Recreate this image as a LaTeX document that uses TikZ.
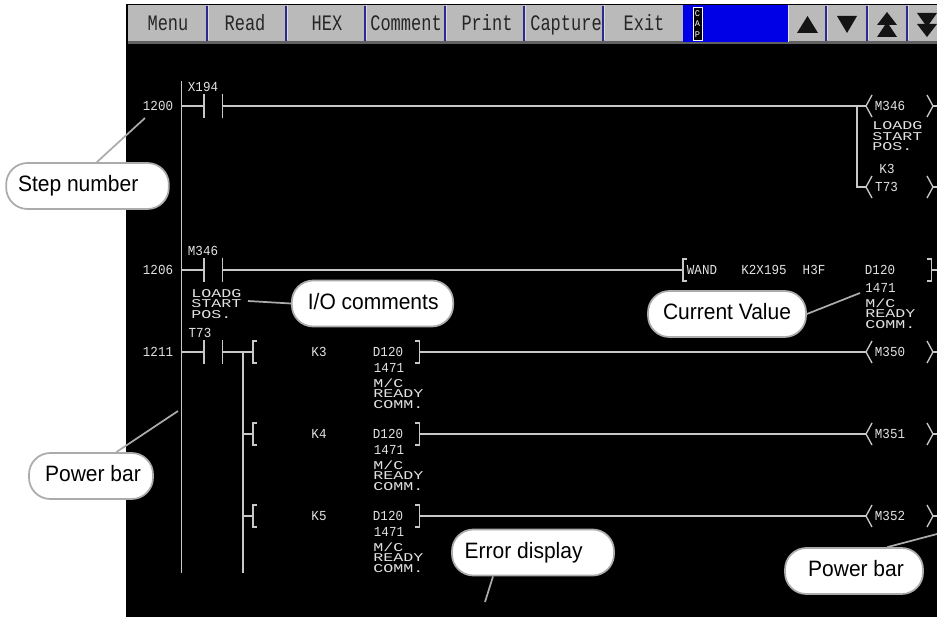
\documentclass[tikz,border=0pt]{standalone}
\usepackage{fontspec}
\usepackage{graphicx}
\setmainfont{Liberation Sans}
\newfontfamily\monof{Liberation Mono}
\usetikzlibrary{calc}
\definecolor{ladline}{HTML}{C8C8C8}
\definecolor{ladtxt}{HTML}{E2E2E2}
\definecolor{btnfill}{HTML}{BABABA}
\definecolor{btnedge}{HTML}{2A2A90}
\definecolor{scrblue}{HTML}{0000E6}
\definecolor{callgray}{HTML}{ABABAB}
\newcommand{\ltx}[1]{\scalebox{1}[1.1]{#1}}
\newcommand{\ctx}[1]{\scalebox{1.33}[0.95]{#1}}
\newcommand{\cmt}[3]{\ctx{#1}\\\ctx{#2}\\\ctx{#3}}
\newcommand{\btx}[1]{\scalebox{1}[1.3]{#1}}
\newcommand{\clt}[2]{\raisebox{#1}[11.3pt][0pt]{\scalebox{1}[1.06]{#2}}}
\tikzset{
  x=0.75pt,y=-0.75pt,
  wire/.style={draw=ladline,line width=1pt},
  lad/.style={text=ladtxt,inner sep=0pt,font=\monof\fontsize{9.4pt}{11pt}\selectfont},
  comm/.style={text=ladtxt,inner sep=0pt,anchor=west,align=left,font=\monof\fontsize{9.4pt}{7.9pt}\selectfont},
  btnt/.style={text=black!85,inner sep=0pt,anchor=base,font=\monof\fontsize{12.75pt}{14pt}\selectfont},
  call/.style={draw=callgray,fill=white,line width=1.3pt,rounded corners=16pt,inner sep=0pt,minimum height=34.5pt,font=\fontsize{15.75pt}{18pt}\selectfont,text=black},
  leader/.style={draw=callgray,line width=1.3pt},
  tri/.style={fill=black!92,draw=none},
}
\begin{document}
\begin{tikzpicture}
\useasboundingbox (0,0) rectangle (937,617);
\fill[white] (0,0) rectangle (937,617);
\fill[black] (126,4) rectangle (937,617);
% toolbar
\fill[btnfill] (128,5) rectangle (937,42);
\fill[black!62] (128,41) rectangle (937,44);
\foreach \xt/\nm/\tx in {168/bMenu/Menu,245/bRead/Read,327/bHex/HEX,406/bComment/Comment,487/bPrint/Print,566/bCapture/Capture,644/bExit/Exit}{
  \node[btnt] (\nm) at (\xt,31) {\btx{\tx}};
}
\foreach \xd in {207,286,365,445,524,603,826,867,907}{
  \draw[btnedge,line width=0.9pt] (\xd,6) -- (\xd,41);
  \draw[white!85!black,line width=0.9pt] (\xd+1.5,5) -- (\xd+1.5,40);
}
\fill[scrblue] (683,5) rectangle (788,42);
\draw[black!10!white,line width=0.6pt] (788,5) -- (788,42);
\node[draw=white,fill=black,line width=0.5pt,minimum width=7pt,minimum height=25pt,inner sep=0pt,text=white,align=center,font=\monof\fontsize{6.5pt}{8pt}\selectfont] (cap) at (697.5,24) {C\\A\\P};
\fill[tri] (807.5,16) -- (818,33) -- (797,33) -- cycle;
\fill[tri] (847,33) -- (857,16) -- (837,16) -- cycle;
\fill[tri] (887,12) -- (897,25) -- (877,25) -- cycle;
\fill[tri] (887,22) -- (897,37) -- (877,37) -- cycle;
\fill[tri] (927,37) -- (937,24) -- (917,24) -- cycle;
\fill[tri] (927,27) -- (937,13) -- (917,13) -- cycle;
% power bars
\draw[wire] (181.5,81) -- (181.5,573);
\draw[wire] (243,352) -- (243,573);
% rung 1200
\draw[wire] (181.5,106) -- (204,106) (204,94) -- (204,118) (222.5,94) -- (222.5,118) (222.5,106) -- (866,106);
\draw[wire] (857,106) -- (857,187) -- (866,187);
% rung 1206
\draw[wire] (181.5,270) -- (204,270) (204,258) -- (204,282) (222.5,258) -- (222.5,282) (222.5,270) -- (683,270);
\draw[wire] (687,259) -- (683,259) -- (683,281) -- (687,281);
\draw[wire] (927,259) -- (931.5,259) -- (931.5,281) -- (927,281) (931.5,270) -- (937,270);
% rung 1211
\draw[wire] (181.5,352) -- (204,352) (204,340) -- (204,364) (222.5,340) -- (222.5,364) (222.5,352) -- (253,352);
\foreach \yy in {352,434,516}{
  \draw[wire] (243,\yy) -- (253,\yy);
  \draw[wire] (257,\yy-11) -- (253,\yy-11) -- (253,\yy+11) -- (257,\yy+11);
  \draw[wire] (415,\yy-11) -- (419.5,\yy-11) -- (419.5,\yy+11) -- (415,\yy+11);
  \draw[wire] (419.5,\yy) -- (866,\yy);
}
\foreach \yy in {106,187,352,434,516}{
  \draw[wire] (872,\yy-11) -- (866,\yy) -- (872,\yy+11);
  \draw[wire] (927,\yy-11) -- (933,\yy) -- (927,\yy+11);
  \draw[wire] (933,\yy) -- (937,\yy);
}
% ladder texts
\node[lad] (s1200) at (158,106) {\ltx{1200}};
\node[lad] (s1206) at (158,270) {\ltx{1206}};
\node[lad] (s1211) at (158,352) {\ltx{1211}};
\node[lad] (cX194) at (203,87) {\ltx{X194}};
\node[lad] (cM346) at (203,251) {\ltx{M346}};
\node[lad] (cT73) at (200,333) {\ltx{T73}};
\node[comm] (cmA) at (191,304) {\cmt{LOADG}{START}{POS.}};
\node[lad] (oM346) at (890,106) {\ltx{M346}};
\node[comm] (cmB) at (872,136.5) {\cmt{LOADG}{START}{POS.}};
\node[lad] (k3t) at (887,169) {\ltx{K3}};
\node[lad] (oT73) at (886.5,187) {\ltx{T73}};
\node[lad] (wand) at (702,270) {\ltx{WAND}};
\node[lad] (k2x) at (764,270) {\ltx{K2X195}};
\node[lad] (h3f) at (814,270) {\ltx{H3F}};
\node[lad] (dw) at (880,270) {\ltx{D120}};
\node[lad] (vw) at (880.5,288) {\ltx{1471}};
\node[comm] (cmC) at (865,313.5) {\cmt{M/C}{READY}{COMM.}};
\foreach \yy/\kk/\mm in {352/K3/M350,434/K4/M351,516/K5/M352}{
  \node[lad] (k\mm) at (319,\yy) {\ltx{\kk}};
  \node[lad] (d\mm) at (388,\yy) {\ltx{D120}};
  \node[lad] (v\mm) at (389,\yy+15.5) {\ltx{1471}};
  \node[comm] (c\mm) at (373,\yy+41.5) {\cmt{M/C}{READY}{COMM.}};
  \node[lad] (o\mm) at (890,\yy) {\ltx{\mm}};
}
% callouts
\coordinate (tStep) at (145,118);
\coordinate (tIO) at (248,301);
\coordinate (tCur) at (860,293);
\coordinate (tPL) at (178,411);
\coordinate (tErr) at (485,602);
\coordinate (tPR) at (937,534);
\node[call,minimum width=122pt] (nStep) at (87.5,186) {\clt{1.3pt}{Step number}\hspace*{14pt}};
\node[call,minimum width=121pt] (nIO) at (372.5,303.5) {\hspace*{1pt}\clt{1.3pt}{I/O comments}};
\node[call,minimum width=118.5pt] (nCur) at (727,314) {\clt{1.3pt}{Current Value}};
\node[call,minimum width=93pt] (nPL) at (91,476) {\hspace*{3pt}\clt{1.3pt}{Power bar}};
\node[call,minimum width=121.5pt] (nErr) at (533,552.5) {\clt{1.3pt}{Error display}\hspace*{14pt}};
\node[call,minimum width=103.5pt] (nPR) at (854,571) {\hspace*{3pt}\clt{1.9pt}{Power bar}};
\draw[leader] (tStep) -- ([xshift=7pt]nStep.north);
\draw[leader] (tIO) -- (nIO.west);
\draw[leader] (tCur) -- (nCur.east);
\draw[leader] (tPL) -- ([xshift=19pt]nPL.north);
\draw[leader] (tErr) -- ([xshift=-30pt]nErr.south);
\draw[leader] (tPR) -- ([xshift=25pt]nPR.north);
\end{tikzpicture}
\end{document}
